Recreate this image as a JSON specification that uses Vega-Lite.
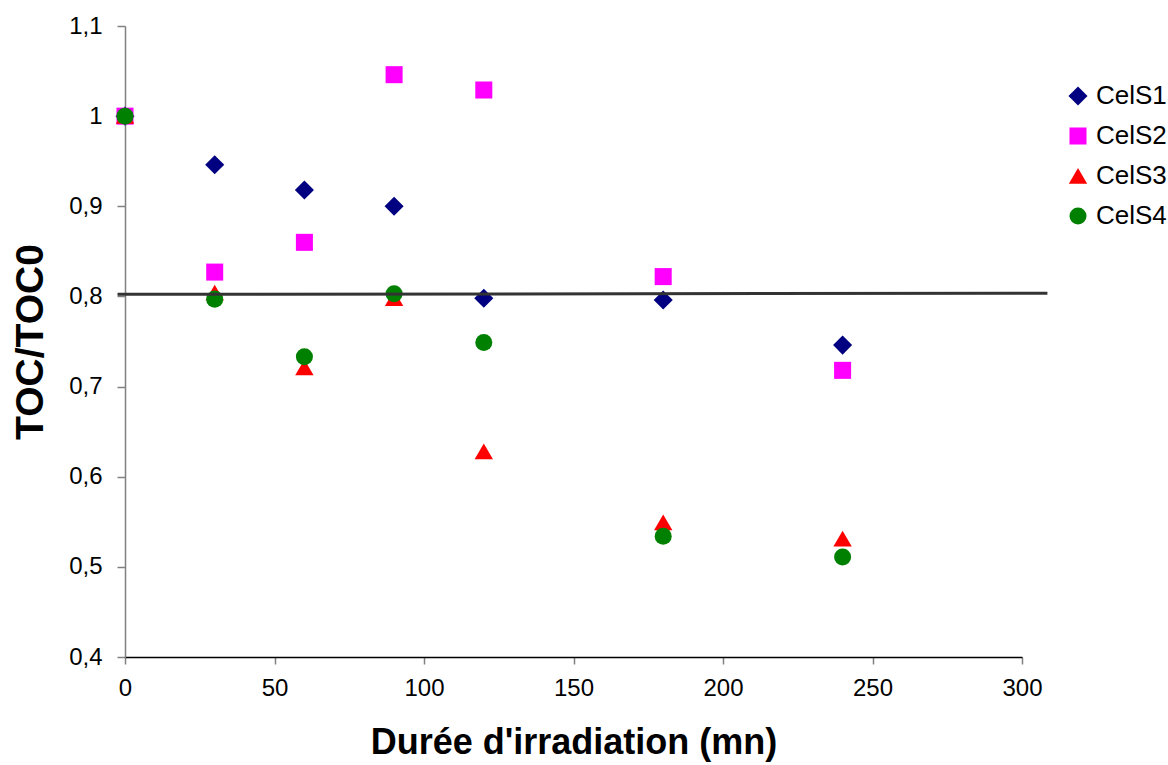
{
  "$schema": "https://vega.github.io/schema/vega-lite/v6.json",
  "width": 897,
  "height": 631,
  "autosize": {"type": "none"},
  "padding": {"left": 125, "top": 26, "right": 146, "bottom": 108},
  "background": "white",
  "config": {
    "view": {"stroke": null},
    "font": "Liberation Sans",
    "axis": {"grid": false, "labelFont": "Liberation Sans", "titleFont": "Liberation Sans", "labelColor": "black", "titleColor": "black"}
  },
  "datasets": {
    "pts": [
      {"t": 0, "v": 1.0, "serie": "CelS1"},
      {"t": 30, "v": 0.946, "serie": "CelS1"},
      {"t": 60, "v": 0.918, "serie": "CelS1"},
      {"t": 90, "v": 0.900, "serie": "CelS1"},
      {"t": 120, "v": 0.798, "serie": "CelS1"},
      {"t": 180, "v": 0.796, "serie": "CelS1"},
      {"t": 240, "v": 0.746, "serie": "CelS1"},
      {"t": 0, "v": 1.0, "serie": "CelS2"},
      {"t": 30, "v": 0.827, "serie": "CelS2"},
      {"t": 60, "v": 0.860, "serie": "CelS2"},
      {"t": 90, "v": 1.046, "serie": "CelS2"},
      {"t": 120, "v": 1.029, "serie": "CelS2"},
      {"t": 180, "v": 0.822, "serie": "CelS2"},
      {"t": 240, "v": 0.718, "serie": "CelS2"},
      {"t": 0, "v": 1.0, "serie": "CelS3"},
      {"t": 30, "v": 0.804, "serie": "CelS3"},
      {"t": 60, "v": 0.721, "serie": "CelS3"},
      {"t": 90, "v": 0.798, "serie": "CelS3"},
      {"t": 120, "v": 0.628, "serie": "CelS3"},
      {"t": 180, "v": 0.549, "serie": "CelS3"},
      {"t": 240, "v": 0.531, "serie": "CelS3"},
      {"t": 0, "v": 1.0, "serie": "CelS4"},
      {"t": 30, "v": 0.797, "serie": "CelS4"},
      {"t": 60, "v": 0.733, "serie": "CelS4"},
      {"t": 90, "v": 0.803, "serie": "CelS4"},
      {"t": 120, "v": 0.749, "serie": "CelS4"},
      {"t": 180, "v": 0.534, "serie": "CelS4"},
      {"t": 240, "v": 0.511, "serie": "CelS4"}
    ],
    "ligne": [
      {"t": -2.5, "v": 0.8023},
      {"t": 308.5, "v": 0.8035}
    ]
  },
  "layer": [
    {
      "data": {"name": "pts"},
      "mark": {"type": "point", "filled": true, "opacity": 1, "size": 290},
      "encoding": {
        "x": {
          "field": "t", "type": "quantitative",
          "scale": {"domain": [0, 300], "nice": false, "zero": false},
          "axis": {
            "values": [0, 50, 100, 150, 200, 250, 300],
            "title": "Durée d'irradiation (mn)",
            "titleFontSize": 36, "titleFontWeight": "bold", "titlePadding": 25,
            "labelFontSize": 24, "labelPadding": 12,
            "domainColor": "black", "domainWidth": 1.5,
            "tickColor": "#808080", "tickSize": 7, "tickWidth": 1.5,
            "labelFlush": false
          }
        },
        "y": {
          "field": "v", "type": "quantitative",
          "scale": {"domain": [0.4, 1.1], "nice": false, "zero": false},
          "axis": {
            "values": [0.4, 0.5, 0.6, 0.7, 0.8, 0.9, 1.0, 1.1],
            "labelExpr": "replace(format(datum.value, '.1~f'), '.', ',')",
            "title": "TOC/TOC0",
            "titleFontSize": 39, "titleFontWeight": "bold", "titlePadding": 18,
            "labelFontSize": 24, "labelPadding": 15,
            "domainColor": "#808080", "domainWidth": 1.5,
            "tickColor": "#808080", "tickSize": 8, "tickWidth": 1.5,
            "labelFlush": false
          }
        },
        "color": {
          "field": "serie", "type": "nominal",
          "scale": {"domain": ["CelS1", "CelS2", "CelS3", "CelS4"], "range": ["#000080", "#FF00FF", "#FF0000", "#008000"]},
          "legend": {
            "title": null, "orient": "none", "legendX": 940, "legendY": 57,
            "labelFontSize": 26, "labelFont": "Liberation Sans", "labelColor": "black",
            "rowPadding": 14, "labelOffset": 5, "symbolSize": 290
          }
        },
        "shape": {
          "field": "serie", "type": "nominal",
          "scale": {"domain": ["CelS1", "CelS2", "CelS3", "CelS4"], "range": ["M-1.12,0L0,-1.12L1.12,0L0,1.12Z", "square", "M0,-0.95L1.08,0.9L-1.08,0.9Z", "circle"]},
          "legend": {
            "title": null, "orient": "none", "legendX": 940, "legendY": 57,
            "labelFontSize": 26, "labelFont": "Liberation Sans", "labelColor": "black",
            "rowPadding": 14, "labelOffset": 5, "symbolSize": 290
          }
        }
      }
    },
    {
      "data": {"name": "ligne"},
      "mark": {"type": "line", "color": "#333333", "strokeWidth": 3},
      "encoding": {
        "x": {"field": "t", "type": "quantitative"},
        "y": {"field": "v", "type": "quantitative"}
      }
    }
  ]
}
